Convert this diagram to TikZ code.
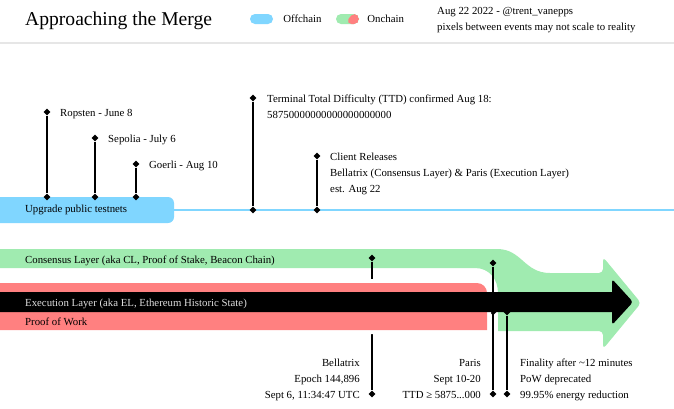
\documentclass[tikz,border=0pt]{standalone}
\usepackage{fontspec}
\setmainfont{Liberation Serif}
\usetikzlibrary{positioning,shapes.geometric}
\definecolor{offchain}{RGB}{128,214,255}
\definecolor{consensus}{RGB}{160,235,176}
\definecolor{pow}{RGB}{255,128,128}
\definecolor{divider}{RGB}{230,230,230}
\definecolor{exectext}{RGB}{222,222,222}

\begin{document}
\begin{tikzpicture}[
    x=1pt, y=-1pt,
    font=\fontsize{10.8}{16}\selectfont,
    pin/.style={diamond, fill=black, inner sep=0pt, minimum size=7pt},
    stem/.style={line width=1.4pt},
    note/.style={inner sep=0pt, align=left, anchor=base west},
    rnote/.style={inner sep=0pt, align=right, anchor=base east},
    pill/.style={rectangle, rounded corners=5pt, minimum width=23pt, minimum height=10pt, inner sep=0pt}
]
\clip (0,0) rectangle (674,408);
\fill[white] (0,0) rectangle (674,408);

% Header
\node[note, font=\fontsize{19.6}{24}\selectfont] (title) at (25,25) {Approaching the Merge};
\node[pill, fill=offchain] (offPill) at (261.5,19) {};
\node[inner sep=0pt, right=10pt of offPill] (offText) {Offchain};
\node[pill, fill=consensus, path picture={
    \fill[pow] ([xshift=3pt]path picture bounding box.north) -- (path picture bounding box.north east)
      -- (path picture bounding box.south east) -- ([xshift=-1pt]path picture bounding box.south) -- cycle;}]
  (onPill) at (347.5,19) {};
\node[inner sep=0pt, right=8pt of onPill] (onText) {Onchain};
\node[note] (credit) at (437,30) {Aug 22 2022 - @trent\_vanepps\\pixels between events may not scale to reality};
\coordinate (divLeft) at (0,43);
\coordinate (divRight) at (674,43);
\draw[divider, line width=1.5pt] (divLeft) -- (divRight);

% Testnets
\node[fill=offchain, rounded corners=6pt, minimum width=184pt, minimum height=26pt, inner sep=0pt] (testnets) at (82,210) {};
\node[inner sep=0pt, anchor=west] (testText) at (25,210) {Upgrade public testnets};
\coordinate (lineEnd) at (674,210);
\draw[offchain, line width=1.2pt] (testnets.east) -- (lineEnd);

\node[pin] (ropstenTop) at (47,112) {};
\node[pin] (ropstenBase) at (47,197) {};
\node[pin] (sepoliaTop) at (95,138) {};
\node[pin] (sepoliaBase) at (95,197) {};
\node[pin] (goerliTop) at (136,164) {};
\node[pin] (goerliBase) at (136,197) {};
\node[pin] (ttdTop) at (253,98) {};
\node[pin] (ttdBase) at (253,210) {};
\node[pin] (clientTop) at (317,156) {};
\node[pin] (clientBase) at (317,210) {};

\draw[stem] (ropstenTop) -- (ropstenBase);
\draw[stem] (sepoliaTop) -- (sepoliaBase);
\draw[stem] (goerliTop) -- (goerliBase);
\draw[stem] (ttdTop) -- (ttdBase);
\draw[stem] (clientTop) -- (clientBase);

% multi-line notes sit on their last line
\node[note] (ropstenText) at ([xshift=13pt,yshift=-4pt]ropstenTop) {Ropsten - June 8};
\node[note] (sepoliaText) at ([xshift=13pt,yshift=-4pt]sepoliaTop) {Sepolia - July 6};
\node[note] (goerliText) at ([xshift=13pt,yshift=-4pt]goerliTop) {Goerli - Aug 10};
\node[note] (ttdText) at ([xshift=14pt,yshift=-20pt]ttdTop) {Terminal Total Difficulty (TTD) confirmed Aug 18:\\58750000000000000000000};
\node[note] (clientText) at ([xshift=13pt,yshift=-36pt]clientTop) {Client Releases\\Bellatrix (Consensus Layer) \& Paris (Execution Layer)\\est. Aug 22};

% Layers
\fill[consensus] (-10,249) -- (497,249) .. controls (522,249) and (524,273) .. (550,273)
  [rounded corners=4pt] -- (603,273) -- (603,257) -- (641,303) -- (603,349) -- (603,331)
  [sharp corners] -- (498,331) -- (498,293) .. controls (498,279) and (489,268) .. (475,268) -- (-10,268) -- cycle;

\node[pin] (bellatrixTop) at (372,258) {};
\node[pin] (bellatrixBase) at (372,394) {};
\node[pin] (parisTop) at (493,263) {};
\node[pin] (parisMid) at (493,312) {};
\node[pin] (parisBase) at (493,394) {};
\node[pin] (finalityTop) at (507,312) {};
\node[pin] (finalityBase) at (507,394) {};

\draw[stem] (bellatrixTop) -- (bellatrixBase);
\draw[stem] (parisTop) -- (parisBase);
\draw[stem] (finalityTop) -- (finalityBase);

\fill[pow, preaction={draw=white, line width=8pt}] (-10,330) -- (-10,283) [rounded corners=10pt] -- (487,283)
  [sharp corners] -- (487,330) -- cycle;
\fill[black] (-10,292) -- (612,292) [rounded corners=3pt] -- (612,279) -- (633,302) -- (612,325)
  [sharp corners] -- (612,312) -- (-10,312) -- cycle;

\node[note] (clText) at (25,263) {Consensus Layer (aka CL, Proof of Stake, Beacon Chain)};
\node[note, text=exectext] (elText) at (25,306) {Execution Layer (aka EL, Ethereum Historic State)};
\node[note] (powText) at (25,325) {Proof of Work};

% Bottom labels
\node[rnote] (bellatrixText) at ([xshift=-12pt,yshift=-4pt]bellatrixBase) {Bellatrix\\Epoch 144,896\\Sept 6, 11:34:47 UTC};
\node[rnote] (parisText) at ([xshift=-12pt,yshift=-4pt]parisBase) {Paris\\Sept 10-20\\TTD ≥ 5875...000};
\node[note] (finalityText) at ([xshift=13pt,yshift=-4pt]finalityBase) {Finality after \textasciitilde12 minutes\\PoW deprecated\\99.95\% energy reduction};

\end{tikzpicture}
\end{document}
